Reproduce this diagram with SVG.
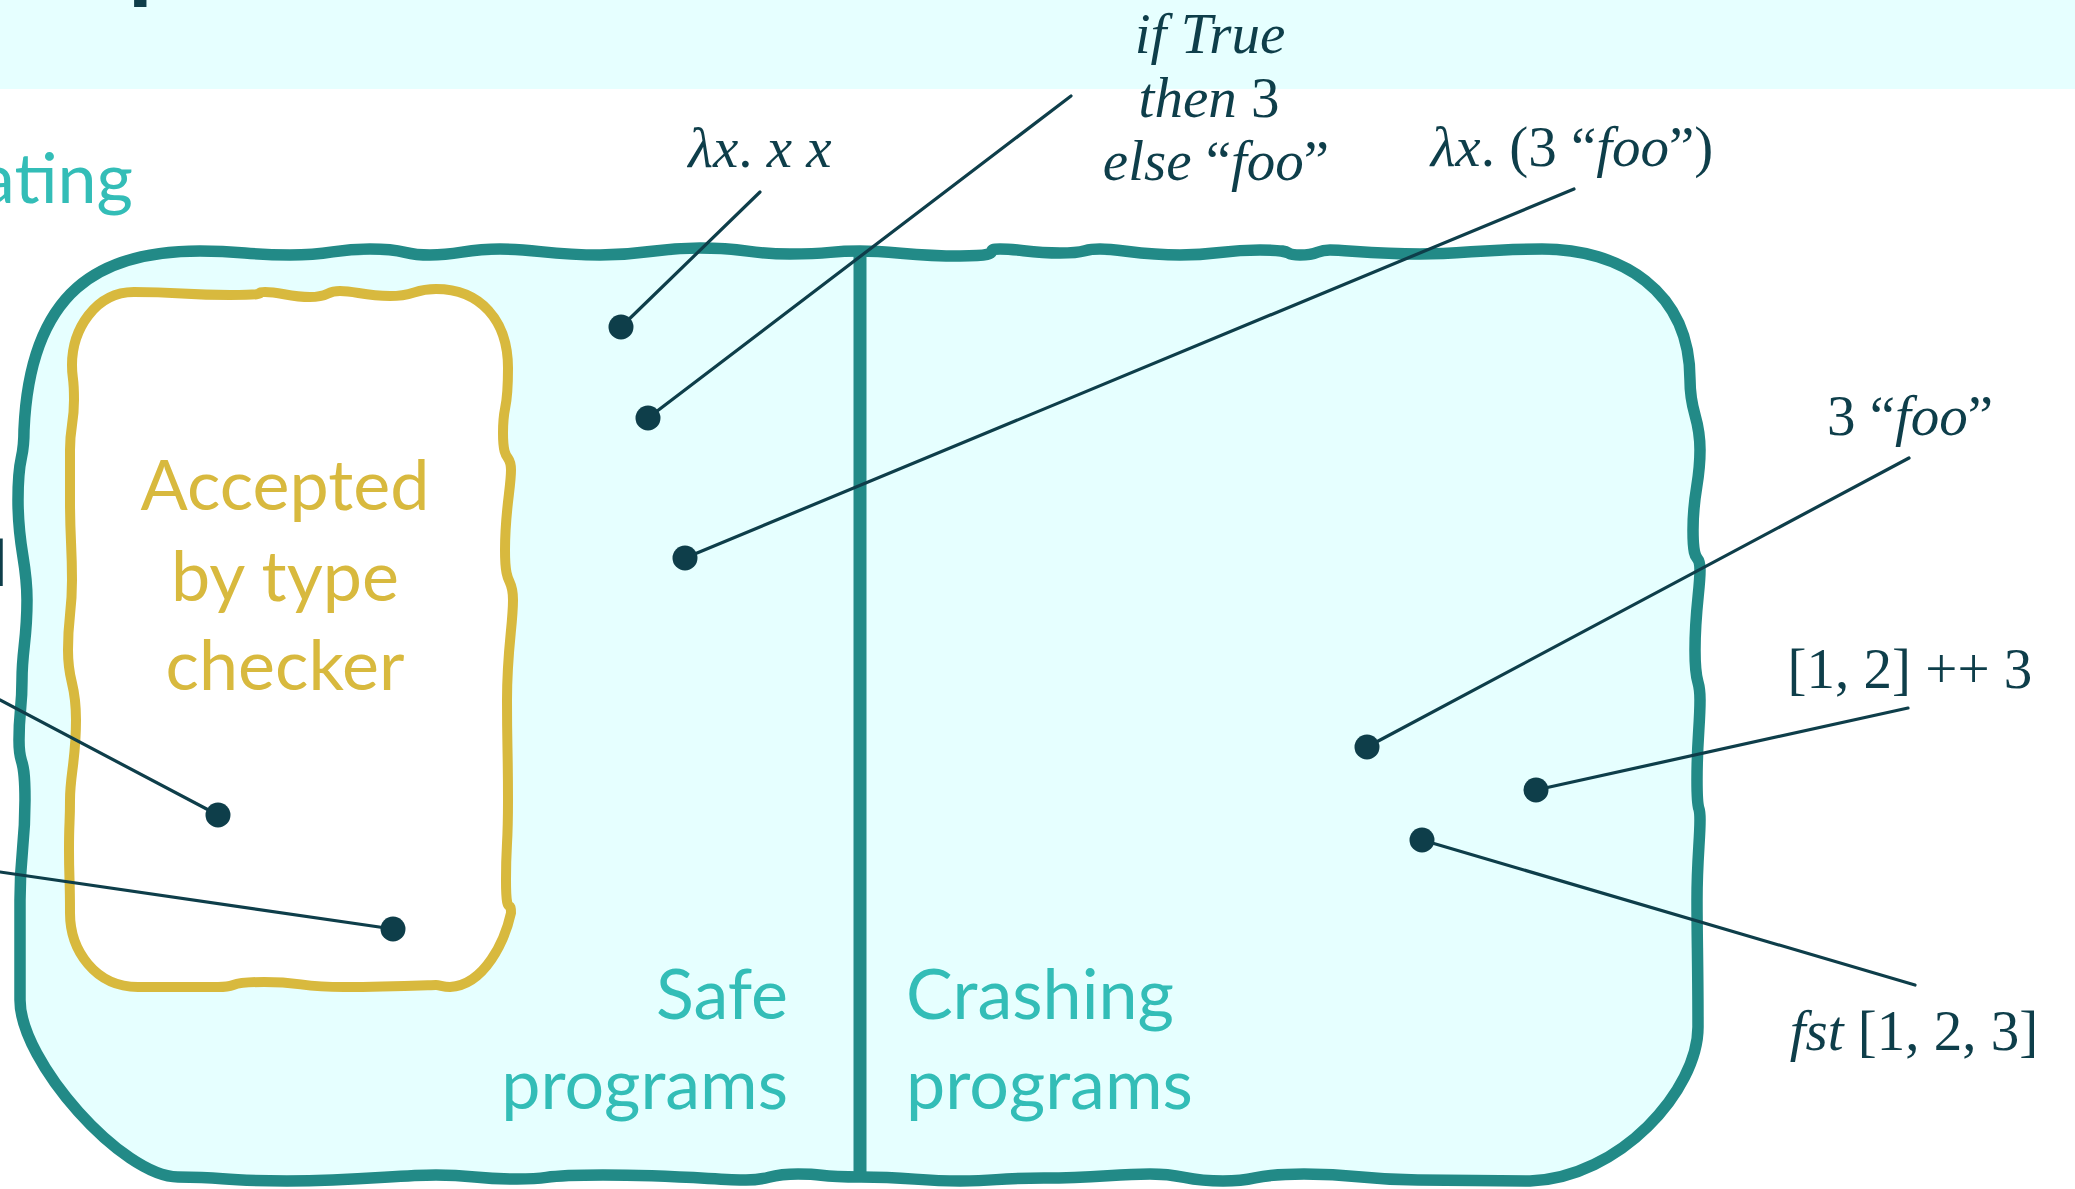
<svg xmlns="http://www.w3.org/2000/svg" width="2075" height="1189" viewBox="0 0 2075 1189">
<defs>
<style>
.band{fill:#E6FFFF}
.outer{fill:#E6FFFF;stroke:#228A87;stroke-width:11.5;stroke-linejoin:round}
.divider{stroke:#228A87;stroke-width:13}
.inner{fill:#FFFFFF;stroke:#D8B93E;stroke-width:10;stroke-linejoin:round}
.lbl{font-family:Lato,"Open Sans",sans-serif;font-size:70px}
.teal{fill:#33BDB7}
.yel{fill:#D8B93E}
.math{font-family:"Liberation Serif","Times New Roman",serif;font-size:57px;fill:#0E3E4A}
.it{font-style:italic}
.conn line{stroke:#0E3E4A;stroke-width:3.2;stroke-linecap:round}
.dot{fill:#0E3E4A}
</style>
</defs>
<rect class="band" x="0" y="0" width="2075" height="89"/>
<text x="128" y="-10" font-family="Lato,sans-serif" font-weight="bold" font-size="100" fill="#0E3E4A">p</text>
<text class="lbl teal" x="133" y="203" text-anchor="end">ating</text>

<g id="all-programs">
<path class="outer" d="M200,251 C245,251 245,255 290,255 S330,249 370,249 S400,255 430,255 S465,249 500,249 S550,255 600,255 S650,248 700,248 S745,254 790,254 S825,251 860,251 S910,256 960,256 S980,249 1000,249 S1030,253 1060,253 S1080,249 1100,249 S1140,255 1180,255 S1220,250 1260,250 S1280,255 1300,255 S1315,250 1330,250 S1375,254 1420,254 S1481,249 1542,249 C1620,249 1690,290 1690,380 C1690,415 1700,415 1700,450 S1693,490 1693,530 S1700,550 1700,570 S1695,610 1695,650 S1700,675 1700,700 S1697,740 1697,780 S1700,800 1700,820 S1697,860 1697,900 S1698,963 1698,1027 C1698,1090 1620,1178 1530,1181 C1474,1181 1474,1180 1418,1180 S1361,1174 1304,1174 S1263,1181 1223,1181 S1186,1174 1150,1174 S1097,1178 1044,1178 S1002,1181 960,1181 S910,1177 861,1177 S830,1174 798,1174 S772,1180 746,1180 S675,1175 603,1175 S560,1179 517,1179 S476,1175 436,1175 S361,1181 287,1181 S232,1177 178,1177 C123,1177 20,1062 20,1000 S20,950 20,900 S25,850 25,800 S19,770 19,740 S22,710 22,680 S27,640 27,600 S18,550 18,500 S24,465 24,430 C30,290 100,251 200,251 Z"/>
</g>
<g id="divider"><line class="divider" x1="860" y1="252" x2="860" y2="1181"/></g>

<g id="accepted-by-type-checker">
<path class="inner" d="M134,292 C182,292 182,295 230,295 S250,292 265,292 S290,297 310,297 S325,291 340,291 S365,296 390,296 S413,289 436,289 C480,289 508,320 508,368 S503,401 503,433 S511,452 511,470 S505,510 505,550 S513,575 513,600 S507,650 507,700 S508,750 508,800 S506,840 506,880 S511,897 511,913 C505,940 485,985 450,987 C443,987 440,985 436,985 S390,987 344,987 S304,982 264,982 S241,987 218,987 S178,987 138,987 C95,987 70,950 70,913 S69,880 69,850 S70,825 70,800 S76,760 76,720 S68,685 68,650 S72,615 72,580 S70,540 70,500 S70,475 70,450 S74,425 74,400 S72,380 72,365 C72,330 95,292 134,292 Z"/>
<text class="lbl yel" text-anchor="middle"><tspan x="285" y="510">Accepted</tspan><tspan x="285" y="601">by type</tspan><tspan x="285" y="690">checker</tspan></text>
</g>

<g id="safe-programs">
<text class="lbl teal" text-anchor="end"><tspan x="788" y="1019">Safe</tspan><tspan x="788" y="1109">programs</tspan></text>
</g>
<g id="crashing-programs">
<text class="lbl teal"><tspan x="906" y="1019">Crashing</tspan><tspan x="906" y="1109">programs</tspan></text>
</g>

<g id="connectors" class="conn">
<line x1="621" y1="327" x2="760" y2="192"/>
<line x1="648" y1="418" x2="1071" y2="96"/>
<line x1="685" y1="558" x2="1574" y2="189"/>
<line x1="1367" y1="747" x2="1909" y2="458"/>
<line x1="1536" y1="790" x2="1908" y2="708"/>
<line x1="1422" y1="840" x2="1915" y2="985"/>
<line x1="218" y1="815" x2="0" y2="700"/>
<line x1="393" y1="929" x2="0" y2="872"/>
</g>

<g id="p-selfapp"><circle class="dot" cx="621" cy="327" r="12.5"/><text class="math" x="760" y="167" text-anchor="middle"><tspan class="it">λx</tspan>. <tspan class="it">x x</tspan></text></g>
<g id="p-if"><circle class="dot" cx="648" cy="418" r="12.5"/><text class="math" text-anchor="middle"><tspan x="1210" y="53" class="it">if True</tspan><tspan x="1209" y="117"><tspan class="it">then</tspan> 3</tspan><tspan x="1216" y="180"><tspan class="it">else</tspan> “<tspan class="it">foo</tspan>”</tspan></text></g>
<g id="p-lambda-crash"><circle class="dot" cx="685" cy="558" r="12.5"/><text class="math" x="1572" y="166" text-anchor="middle"><tspan class="it">λx</tspan>. (3 “<tspan class="it">foo</tspan>”)</text></g>
<g id="p-apply"><circle class="dot" cx="1367" cy="747" r="12.5"/><text class="math" x="1910" y="435" text-anchor="middle">3 “<tspan class="it">foo</tspan>”</text></g>
<g id="p-append"><circle class="dot" cx="1536" cy="790" r="12.5"/><text class="math" x="1910" y="688" text-anchor="middle">[1, 2] ++ 3</text></g>
<g id="p-fst"><circle class="dot" cx="1422" cy="840" r="12.5"/><text class="math" x="1914" y="1050" text-anchor="middle"><tspan class="it">fst</tspan> [1, 2, 3]</text></g>
<g id="p-left1"><circle class="dot" cx="218" cy="815" r="12.5"/></g>
<g id="p-left2"><circle class="dot" cx="393" cy="929" r="12.5"/></g>
<text class="math" x="7" y="578" text-anchor="end">]</text>
</svg>
